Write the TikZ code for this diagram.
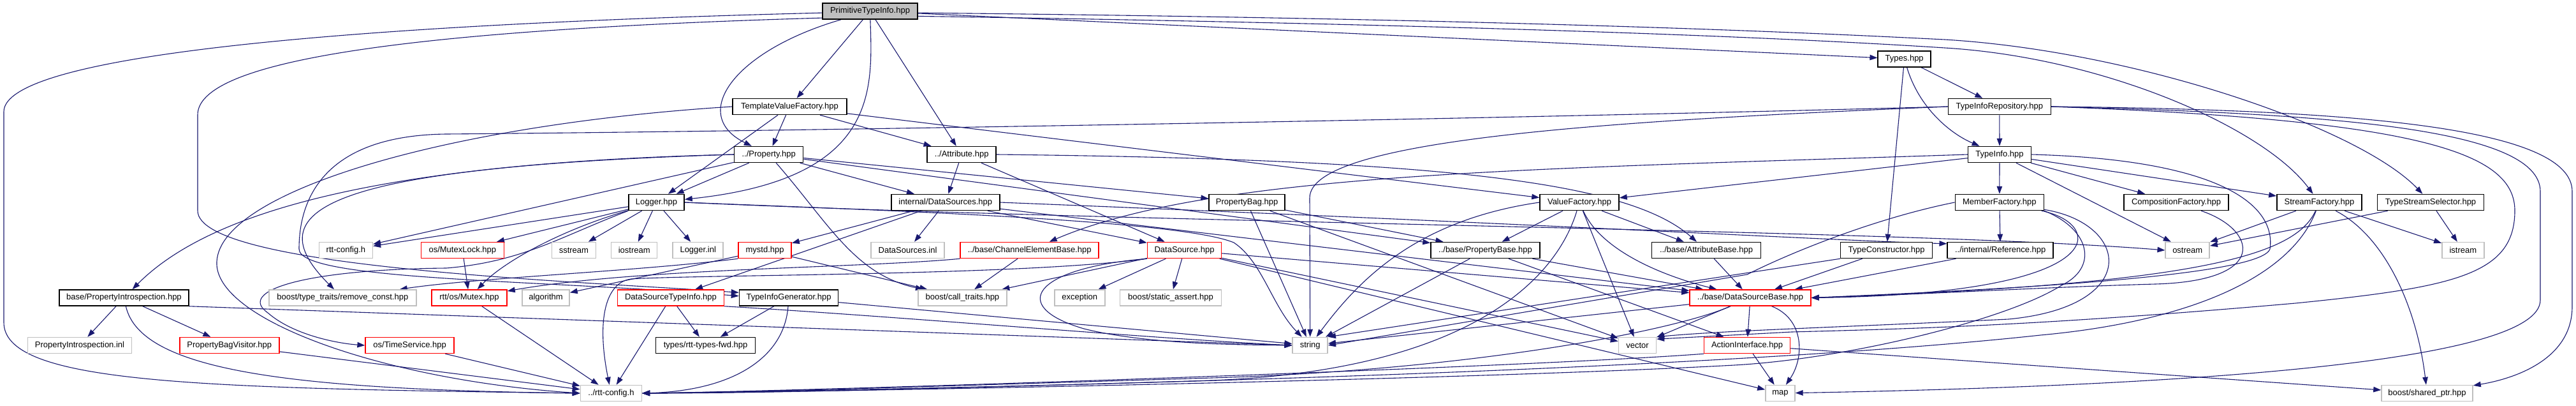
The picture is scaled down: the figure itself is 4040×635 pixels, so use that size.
\documentclass[tikz,border=0pt]{standalone}
\usepackage{fontspec}
\newfontfamily\lab{Liberation Sans}
\usetikzlibrary{arrows.meta}
\definecolor{edgec}{HTML}{191970}
\definecolor{gbord}{HTML}{BFBFBF}
\pgfdeclarelayer{bg}
\pgfsetlayers{bg,main}
\begin{document}
\begin{tikzpicture}[x=1pt,y=-1pt,
 nbox/.style={rectangle, fill=white, line width=1.5pt, minimum height=25pt, inner sep=0pt, font=\lab\fontsize{13pt}{15pt}\selectfont},
 nb/.style={nbox, draw=black},
 nr/.style={nbox, draw=red},
 ng/.style={nbox, draw=gbord},
 nroot/.style={nbox, draw=black, fill=gbord},
 dep/.style={draw=edgec, line width=1.1pt, -{Triangle[length=12pt,width=8.5pt]}},
]
\useasboundingbox (0,0) rectangle (4040,635);
% row 0-3
\node[nroot, minimum width=149pt] (P) at (1364.5,17.5) {PrimitiveTypeInfo.hpp};
\node[nb, minimum width=83pt] (Types) at (2986.7,92.5) {Types.hpp};
\node[nb, minimum width=179pt] (TVF) at (1238.4,167) {TemplateValueFactory.hpp};
\node[nb, minimum width=161pt] (TIR) at (3135.8,167) {TypeInfoRepository.hpp};
\node[nb, minimum width=108pt] (PR) at (1205.7,242) {../Property.hpp};
\node[nb, minimum width=108pt] (AT) at (1508.2,242) {../Attribute.hpp};
\node[nb, minimum width=99pt] (TI) at (3136,242) {TypeInfo.hpp};
% row 4
\node[nb, minimum width=87pt] (LG) at (1029.5,317) {Logger.hpp};
\node[nb, minimum width=170pt] (DS) at (1482.8,317) {internal/DataSources.hpp};
\node[nb, minimum width=119pt] (PB) at (1955.6,317) {PropertyBag.hpp};
\node[nb, minimum width=124pt] (VF) at (2477,317) {ValueFactory.hpp};
\node[nb, minimum width=139pt] (MF) at (3135.8,317) {MemberFactory.hpp};
\node[nb, minimum width=164pt] (CF) at (3413,317) {CompositionFactory.hpp};
\node[nb, minimum width=133pt] (SF) at (3637.4,317) {StreamFactory.hpp};
\node[nb, minimum width=167pt] (TSS) at (3812,317) {TypeStreamSelector.hpp};
% row 5
\node[ng, minimum width=84pt] (rttcfg) at (542.4,392) {rtt-config.h};
\node[nr, minimum width=130pt] (MLock) at (725.3,392) {os/MutexLock.hpp};
\node[ng, minimum width=69pt] (sstream) at (899.9,392) {sstream};
\node[ng, minimum width=72pt] (iostream) at (994.7,392) {iostream};
\node[ng, minimum width=79pt] (linl) at (1094.7,392) {Logger.inl};
\node[nr, minimum width=83pt] (mystd) at (1199.6,392) {mystd.hpp};
\node[ng, minimum width=115pt] (dsinl) at (1423.6,392) {DataSources.inl};
\node[nr, minimum width=217pt] (CEB) at (1614.7,392) {../base/ChannelElementBase.hpp};
\node[nr, minimum width=116pt] (DSrc) at (1857.5,392) {DataSource.hpp};
\node[nb, minimum width=171pt] (PBa) at (2329.5,392) {../base/PropertyBase.hpp};
\node[nb, minimum width=171pt] (ABa) at (2676,392) {../base/AttributeBase.hpp};
\node[nb, minimum width=144pt] (TC) at (2958.6,392) {TypeConstructor.hpp};
\node[nb, minimum width=166pt] (RF) at (3137.2,392) {../internal/Reference.hpp};
\node[ng, minimum width=69pt] (ostream) at (3430.7,392) {ostream};
\node[ng, minimum width=66pt] (istream) at (3862.8,392) {istream};
% row 6
\node[nb, minimum width=203pt] (PI) at (194.4,466.5) {base/PropertyIntrospection.hpp};
\node[ng, minimum width=231pt] (rconst) at (537.3,466.5) {boost/type\_traits/remove\_const.hpp};
\node[nr, minimum width=118pt] (Mutex) at (736,466.5) {rtt/os/Mutex.hpp};
\node[ng, minimum width=74pt] (algo) at (856,466.5) {algorithm};
\node[nr, minimum width=167pt] (DSTI) at (1052,466.5) {DataSourceTypeInfo.hpp};
\node[nb, minimum width=155pt] (TIG) at (1237,466.5) {TypeInfoGenerator.hpp};
\node[ng, minimum width=139pt] (ctraits) at (1509.4,466.5) {boost/call\_traits.hpp};
\node[ng, minimum width=79pt] (except) at (1693.3,466.5) {exception};
\node[ng, minimum width=159pt] (sassert) at (1836,466.5) {boost/static\_assert.hpp};
\node[nr, minimum width=190pt] (DSB) at (2745,466.5) {../base/DataSourceBase.hpp};
% row 7
\node[ng, minimum width=163pt] (PIinl) at (125,541) {PropertyIntrospection.inl};
\node[nr, minimum width=156pt] (PBV) at (359.8,541) {PropertyBagVisitor.hpp};
\node[nr, minimum width=139pt] (TS) at (642.6,541) {os/TimeService.hpp};
\node[nb, minimum width=156pt] (fwd) at (1106.6,541) {types/rtt-types-fwd.hpp};
\node[ng, minimum width=55pt] (string) at (2054.7,541) {string};
\node[ng, minimum width=59pt] (vector) at (2568,541) {vector};
\node[nr, minimum width=135pt] (AI) at (2740,541) {ActionInterface.hpp};
% row 8
\node[ng, minimum width=96pt] (cfg) at (958.4,616) {../rtt-config.h};
\node[ng, minimum width=46pt] (map) at (2791.9,616) {map};
\node[ng, minimum width=143pt] (sptr) at (3806.5,616) {boost/shared\_ptr.hpp};

\begin{pgfonlayer}{bg}
\fill[white] (0,0) rectangle (4040,635);
% PrimitiveTypeInfo
\draw[dep] (P.182) .. controls (500,40) and (6,90) .. (6,175) -- (6,505) .. controls (6,600) and (300,608) .. (cfg.west);
\draw[dep] (P.188) .. controls (600,48) and (310,100) .. (310,180) -- (310,330) .. controls (310,420) and (900,440) .. (TIG.174);
\draw[dep] (P) -- (TVF);
\draw[dep] (P) .. controls (1150,80) and (1080,180) .. (PR);
\draw[dep] (P) .. controls (1368,140) and (1380,280) .. (LG);
\draw[dep] (P) -- (AT);
\draw[dep] (P) -- (Types);
\draw[dep] (P.354) .. controls (2400,40) and (2850,62) .. (3050,75) .. controls (3300,90) and (3550,200) .. (SF);
\draw[dep] (P.358) .. controls (2400,30) and (2850,52) .. (3050,62) .. controls (3350,80) and (3700,200) .. (TSS);
% Types
\draw[dep] (Types) -- (TIR);
\draw[dep] (Types) .. controls (3010,170) and (3060,210) .. (TI);
\draw[dep] (Types) -- (TC);
% TypeInfoRepository
\draw[dep] (TIR) -- (TI);
\draw[dep] (TIR.west) .. controls (2500,190) and (2054,220) .. (2054,310) -- (string);
\draw[dep] (TIR.east) .. controls (3700,172) and (4034,200) .. (4034,300) -- (4034,480) .. controls (4034,560) and (3950,592) .. (sptr);
\draw[dep] (TIR.east) .. controls (3650,178) and (3984,200) .. (3984,300) -- (3984,470) .. controls (3984,570) and (3400,605) .. (map);
\draw[dep] (TIR.east) .. controls (3800,188) and (3944,240) .. (3944,330) .. controls (3944,430) and (3850,450) .. (3600,475) .. controls (3200,510) and (3000,515) .. (2810,520) -- (vector.18);
\draw[dep] (TIR.west) .. controls (2400,185) and (1300,205) .. (700,210) .. controls (520,212) and (469,300) .. (469,390) .. controls (469,440) and (850,438) .. (TIG.178);
% TemplateValueFactory
\draw[dep] (TVF) -- (LG);
\draw[dep] (TVF) -- (PR);
\draw[dep] (TVF) -- (AT);
\draw[dep] (TVF) -- (VF);
\draw[dep] (TVF.west) .. controls (700,195) and (345,300) .. (340,410) .. controls (335,500) and (600,595) .. (cfg.west);
% Property
\draw[dep] (PR) -- (LG);
\draw[dep] (PR) -- (DS);
\draw[dep] (PR) -- (PB);
\draw[dep] (PR.west) .. controls (600,255) and (330,330) .. (PI);
\draw[dep] (PR.west) .. controls (500,262) and (400,330) .. (rconst);
\draw[dep] (PR) -- (rttcfg);
\draw[dep] (PR) -- (PBa);
\draw[dep] (PR) .. controls (1300,350) and (1340,430) .. (ctraits);
% Logger
\draw[dep] (LG) -- (MLock);
\draw[dep] (LG) -- (sstream);
\draw[dep] (LG) -- (iostream);
\draw[dep] (LG) -- (linl);
\draw[dep] (LG) .. controls (880,360) and (790,410) .. (Mutex);
\draw[dep] (LG) -- (rttcfg);
\draw[dep] (LG.south west) .. controls (880,370) and (820,410) .. (700,420) .. controls (480,422) and (370,455) .. (420,490) .. controls (460,525) and (530,538) .. (TS.west);
\draw[dep] (LG.east) .. controls (1400,330) and (1850,345) .. (1935,380) .. controls (1980,410) and (1995,480) .. (string);
\draw[dep] (LG.east) .. controls (1800,350) and (3000,360) .. (ostream.west);
% Attribute
\draw[dep] (AT) -- (DS);
\draw[dep] (AT) -- (DSrc);
\draw[dep] (AT.east) .. controls (2300,250) and (2560,290) .. (ABa);
% internal/DataSources
\draw[dep] (DS) -- (dsinl);
\draw[dep] (DS) -- (DSrc);
\draw[dep] (DS) -- (mystd);
\draw[dep] (DS) -- (DSTI);
\draw[dep] (DS) -- (DSB);
\draw[dep] (DS.east) .. controls (2400,350) and (2900,378) .. (RF.173);
% DataSource
\draw[dep] (DSrc) -- (except);
\draw[dep] (DSrc) -- (sassert);
\draw[dep] (DSrc) -- (ctraits);
\draw[dep] (DSrc.south west) .. controls (1620,420) and (1580,480) .. (1700,515) .. controls (1800,540) and (1950,540) .. (string.west);
\draw[dep] (DSrc) -- (DSB);
\draw[dep] (DSrc) -- (vector);
\draw[dep] (DSrc) -- (map);
\draw[dep] (DSrc.south west) .. controls (1600,432) and (1100,430) .. (990,437) .. controls (950,442) and (935,500) .. (cfg);
% ChannelElementBase
\draw[dep] (CEB) -- (ctraits);
\draw[dep] (CEB.south west) .. controls (1350,420) and (1000,420) .. (Mutex);
% mystd
\draw[dep] (mystd) -- (algo);
\draw[dep] (mystd.south west) .. controls (1000,425) and (750,435) .. (rconst);
\draw[dep] (mystd) -- (ctraits);
% DataSourceTypeInfo
\draw[dep] (DSTI) -- (fwd);
\draw[dep] (DSTI) -- (cfg);
\draw[dep] (DSTI.south east) .. controls (1400,495) and (1800,530) .. (string.west);
% TypeInfoGenerator
\draw[dep] (TIG) -- (fwd);
\draw[dep] (TIG) .. controls (1230,560) and (1150,612) .. (cfg.east);
\draw[dep] (TIG) -- (string);
% PropertyBag
\draw[dep] (PB) -- (PBa);
\draw[dep] (PB) -- (vector);
\draw[dep] (PB) -- (string);
% ValueFactory
\draw[dep] (VF) -- (PBa);
\draw[dep] (VF) -- (ABa);
\draw[dep] (VF) .. controls (2510,390) and (2600,430) .. (DSB);
\draw[dep] (VF) -- (vector);
\draw[dep] (VF.west) .. controls (2220,345) and (2130,440) .. (string);
\draw[dep] (VF) .. controls (2440,440) and (2300,580) .. (1900,596) .. controls (1500,608) and (1200,616) .. (cfg.east);
% PropertyBase / AttributeBase
\draw[dep] (PBa) -- (string);
\draw[dep] (PBa) -- (DSB);
\draw[dep] (PBa) -- (AI);
\draw[dep] (ABa) -- (DSB);
% DataSourceBase
\draw[dep] (DSB) -- (vector);
\draw[dep] (DSB) -- (AI);
\draw[dep] (DSB) .. controls (2830,500) and (2830,560) .. (map);
\draw[dep] (DSB) -- (string);
\draw[dep] (DSB) .. controls (2620,520) and (2300,580) .. (1900,592) .. controls (1500,604) and (1200,614) .. (cfg.east);
% ActionInterface
\draw[dep] (AI) -- (map);
\draw[dep] (AI) -- (sptr);
\draw[dep] (AI.south west) .. controls (2400,575) and (1300,612) .. (cfg.east);
% MemberFactory
\draw[dep] (MF) -- (RF);
\draw[dep] (MF) .. controls (3300,350) and (3320,460) .. (DSB.east);
\draw[dep] (MF) .. controls (3340,350) and (3360,480) .. (3150,500) .. controls (2900,512) and (2700,518) .. (vector.north east);
\draw[dep] (MF.west) .. controls (2950,340) and (2820,390) .. (2740,430) -- (string.east);
\draw[dep] (MF.south east) .. controls (3280,360) and (3290,420) .. (3233,447) .. controls (3150,500) and (2900,562) .. (2720,572) .. controls (2300,595) and (1300,614) .. (cfg.east);
% TypeConstructor, Reference, CompositionFactory
\draw[dep] (TC) -- (DSB);
\draw[dep] (TC.south west) -- (string.north east);
\draw[dep] (RF) -- (DSB);
\draw[dep] (CF) .. controls (3540,360) and (3560,440) .. (3380,445) .. controls (3200,450) and (3000,462) .. (DSB.east);
% TypeInfo
\draw[dep] (TI) -- (MF);
\draw[dep] (TI) -- (CF);
\draw[dep] (TI) -- (ostream);
\draw[dep] (TI) -- (SF);
\draw[dep] (TI) -- (VF);
\draw[dep] (TI.west) .. controls (2400,265) and (1900,270) .. (CEB);
\draw[dep] (TI.east) .. controls (3480,250) and (3570,320) .. (3560,390) .. controls (3545,435) and (3100,455) .. (DSB.east);
% StreamFactory
\draw[dep] (SF) -- (ostream);
\draw[dep] (SF) -- (istream);
\draw[dep] (SF) .. controls (3740,370) and (3790,480) .. (sptr);
\draw[dep] (SF) .. controls (3600,400) and (3450,445) .. (DSB.east);
\draw[dep] (SF) .. controls (3590,440) and (3420,505) .. (3200,525) .. controls (2600,590) and (1300,612) .. (cfg.east);
% TypeStreamSelector
\draw[dep] (TSS) -- (istream);
\draw[dep] (TSS) -- (ostream);
% PropertyIntrospection
\draw[dep] (PI) -- (PIinl);
\draw[dep] (PI) -- (PBV);
\draw[dep] (PI) .. controls (220,580) and (450,610) .. (cfg.west);
\draw[dep] (PI.south east) -- (string.west);
% small ones
\draw[dep] (PBV) -- (cfg);
\draw[dep] (TS) -- (cfg);
\draw[dep] (Mutex) -- (cfg);
\draw[dep] (MLock) -- (Mutex);
\end{pgfonlayer}
\end{tikzpicture}
\end{document}
